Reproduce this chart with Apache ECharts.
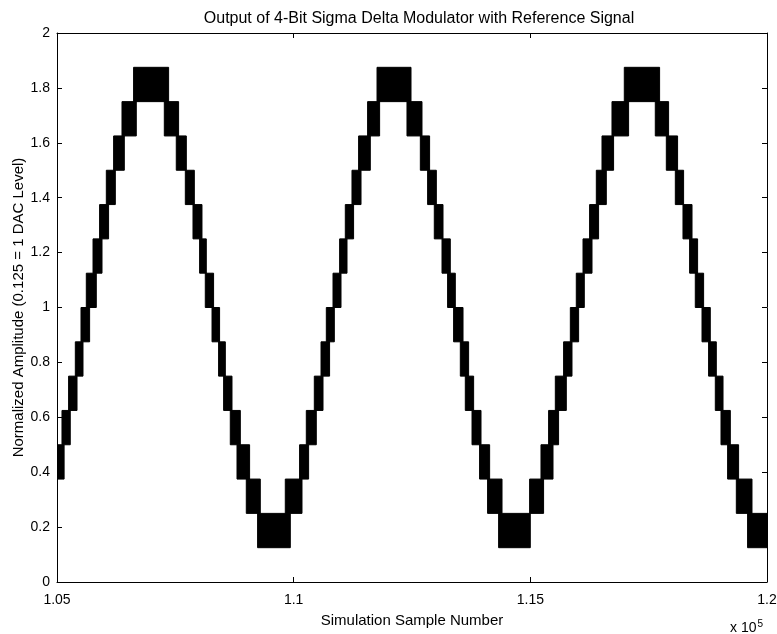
<!DOCTYPE html>
<html>
<head>
<meta charset="utf-8">
<script src="https://cdn.jsdelivr.net/npm/echarts@6/dist/echarts.min.js"></script>
<style>
  html, body { margin: 0; padding: 0; background: #fff; }
  #chart { width: 777px; height: 634px; }
</style>
</head>
<body>
<div id="chart"></div>
<script>
// one DAC level = 0.125
const dacStep = 0.125

// each black band = the output toggling between level k and k+1
const bandStart = [
  105000, 105105, 105245, 105387, 105507, 105619, 105761, 105900, 106042, 106196, 106373, 106618,
  107267, 107520, 107711, 107873, 108013, 108133, 108275, 108414, 108520, 108661, 108803, 108999, 109238,
  109823, 110125, 110267, 110436, 110578, 110690, 110831, 110971, 111091, 111232, 111372, 111562, 111761,
  112394, 112676, 112830, 112971, 113134, 113252, 113379, 113521, 113626, 113768, 113928, 114097, 114330,
  114985, 115225, 115386, 115528, 115703, 115845, 115971, 116113, 116252, 116394, 116514, 116725, 116985,
  117640, 117873, 118063, 118225, 118365, 118485, 118627, 118766, 118908, 119028, 119168, 119352, 119590,
]
const bandEnd = [
  105150, 105280, 105423, 105549, 105689, 105830, 105951, 106090, 106232, 106422, 106675, 107358,
  107569, 107732, 107901, 108063, 108154, 108308, 108435, 108556, 108697, 108873, 109069, 109295, 109929,
  110176, 110316, 110478, 110620, 110759, 110859, 111000, 111127, 111266, 111423, 111619, 111816, 112479,
  112711, 112872, 113014, 113155, 113309, 113415, 113578, 113696, 113802, 113958, 114140, 114402, 114999,
  115280, 115479, 115597, 115760, 115880, 116020, 116140, 116303, 116442, 116605, 116759, 117076, 117731,
  117921, 118111, 118238, 118416, 118534, 118661, 118802, 118929, 119071, 119225, 119400, 119683, 120000,
]
// lower DAC level of each band
const bandLevel = [
  3, 4, 5, 6, 7, 8, 9, 10, 11, 12, 13, 14,
  13, 12, 11, 10, 9, 8, 7, 6, 5, 4, 3, 2, 1,
  2, 3, 4, 5, 6, 7, 8, 9, 10, 11, 12, 13, 14,
  13, 12, 11, 10, 9, 8, 7, 6, 5, 4, 3, 2, 1,
  2, 3, 4, 5, 6, 7, 8, 9, 10, 11, 12, 13, 14,
  13, 12, 11, 10, 9, 8, 7, 6, 5, 4, 3, 2, 1,
]

const chart = echarts.init(document.getElementById('chart'), null, { renderer: 'canvas' })

const bands = bandStart.map((s, i) => [s, bandEnd[i], bandLevel[i]])

const font = 'Liberation Sans, Arial, Helvetica, sans-serif'
const axisCommon = {
  axisLine: { show: true, onZero: false, lineStyle: { color: '#000', width: 1 } },
  axisTick: { show: true, inside: true, length: 5, lineStyle: { color: '#000' } },
  splitLine: { show: false },
}

chart.setOption({
  animation: false,
  backgroundColor: '#fff',
  title: {
    text: 'Output of 4-Bit Sigma Delta Modulator with Reference Signal',
    left: 414,
    textAlign: 'center',
    top: 6,
    textStyle: { fontFamily: font, fontSize: 16, fontWeight: 'normal', color: '#000' },
  },
  grid: { left: 57, right: 10, top: 33, bottom: 52, outerBoundsMode: 'none', containLabel: false },
  xAxis: [
    {
      ...axisCommon,
      type: 'value',
      min: 105000,
      max: 120000,
      interval: 5000,
      position: 'bottom',
      name: 'Simulation Sample Number',
      nameLocation: 'middle',
      nameGap: 31,
      nameMoveOverlap: false,
      nameTextStyle: { fontFamily: font, fontSize: 15, color: '#000' },
      axisLabel: {
        fontFamily: font, fontSize: 14, color: '#000', margin: 11,
        formatter: (v) => String(Math.round(v / 10) / 10000),
      },
    },
    {
      ...axisCommon,
      type: 'value',
      min: 105000,
      max: 120000,
      interval: 5000,
      position: 'top',
      axisLabel: { show: false },
    },
  ],
  yAxis: [
    {
      ...axisCommon,
      type: 'value',
      min: 0,
      max: 2,
      interval: 0.2,
      position: 'left',
      name: 'Normalized Amplitude (0.125 = 1 DAC Level)',
      nameLocation: 'middle',
      nameGap: 31,
      nameMoveOverlap: false,
      nameTextStyle: { fontFamily: font, fontSize: 15, color: '#000' },
      axisLabel: { fontFamily: font, fontSize: 14, color: '#000', margin: 7 },
    },
    {
      ...axisCommon,
      type: 'value',
      min: 0,
      max: 2,
      interval: 0.2,
      position: 'right',
      axisLabel: { show: false },
    },
  ],
  graphic: [
    {
      type: 'text',
      left: 730,
      top: 619,
      style: {
        text: 'x 10{sup|5}',
        rich: { sup: { fontSize: 10, fontFamily: font, verticalAlign: 'top', padding: [0, 0, 9, 1] } },
        fontFamily: font,
        fontSize: 14,
        fill: '#000',
      },
    },
  ],
  series: [
    {
      type: 'custom',
      xAxisIndex: 0,
      yAxisIndex: 0,
      clip: true,
      data: bands,
      renderItem: (params, api) => {
        const lv = api.value(2)
        const p0 = api.coord([api.value(0), (lv + 1) * dacStep])
        const p1 = api.coord([api.value(1), lv * dacStep])
        const rect = echarts.graphic.clipRectByRect(
          { x: p0[0], y: p0[1], width: p1[0] - p0[0], height: p1[1] - p0[1] },
          { x: params.coordSys.x, y: params.coordSys.y, width: params.coordSys.width, height: params.coordSys.height }
        )
        if (!rect) return
        return {
          type: 'rect',
          shape: rect,
          style: { fill: '#000', stroke: '#000', lineWidth: 1 },
        }
      },
    },
  ],
})
</script>
</body>
</html>
